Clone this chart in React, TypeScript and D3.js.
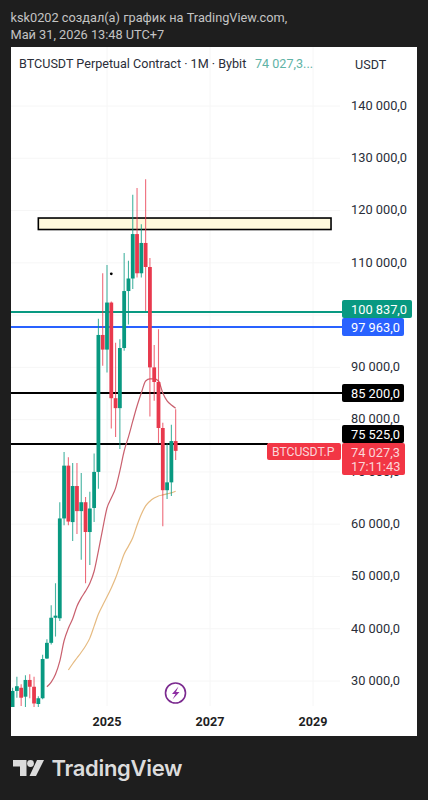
import React from "react";
import * as d3 from "d3";

const FONT = "Roboto, sans-serif";
const firstMonth = -22; // months relative to Jan 2025 (Mar 2023)
const opens = [24800,28100,28700,27000,30200,28900,25600,26700,34300,37300,42100,42000,61100,71200,60400,67300,62500,64200,58500,63100,70000,96200,93400,102400,84100,82200,93700,104600,107000,115500,108000,113800,109200,90000,87200,78400,66500,68000,75900];
const highs = [28700,30800,29400,31100,31300,30800,27100,35000,38000,44500,48700,64200,73800,72800,71700,71700,69800,65200,66200,73500,99300,108000,109600,102600,94700,95400,111900,110400,123000,124300,117400,126000,110900,94300,97300,79400,75500,79000,82000];
const lows = [24800,26800,25200,24800,26700,24800,24800,26500,34200,37000,38500,41500,59800,59800,56800,58100,53200,48700,52200,60400,66800,90300,89000,78300,76700,74400,93200,98200,105000,107200,107200,100800,80600,83600,75500,59600,64800,65400,72300];
const closes = [28100,29000,26800,30200,28900,25700,26700,34200,37300,42100,42500,61100,71200,60500,67300,62500,64200,58500,63000,70000,96200,93400,102400,84100,82200,93700,104600,107000,115500,108000,113800,109200,90000,87200,78400,66500,68000,75900,74027];
const fastStart = -14;
const fastMA = [28900,29800,31300,33800,37700,40100,41900,44300,45900,47200,48700,51000,54900,59100,63100,65000,66900,70200,74000,76700,79700,82600,85100,87400,87800,87800,87400,85100,83600,82800,82200];
const slowStart = -9;
const slowMA = [32100,33300,34400,35500,36700,38200,40500,42800,44500,46100,47800,49700,52000,54300,55800,57400,59800,61900,63500,64400,65000,65400,65600,65800,66000,66300];
const priceTicks = [140000,130000,120000,110000,90000,80000,70000,60000,50000,40000,30000];
const gridTicks = [140000,130000,120000,110000,100000,90000,80000,70000,60000,50000,40000,30000];
const yearTicks = [{ month: 0, label: "2025" }, { month: 24, label: "2027" }, { month: 48, label: "2029" }];
const zone = { top: 118570, bottom: 116370, startMonth: -16, endMonth: 52.2 };
const markerDot = { month: 1, price: 107900 };
const levels = [
  { price: 100837, color: "#089981", text: "100 837,0", tagW: 70, tagShift: -3 },
  { price: 97963, color: "#2962ff", text: "97 963,0", tagW: 62, tagShift: 0 },
  { price: 85200, color: "#000000", text: "85 200,0", tagW: 62, tagShift: 0 },
  { price: 75525, color: "#000000", text: "75 525,0", tagW: 62, tagShift: 0 },
];
const lastPriceText = "74 027,3";
const countdownText = "17:11:43";

const fmt = (v: number) => d3.format(",.1f")(v).replace(/,/g, " ").replace(".", ",");

export default function App() {
  const x = d3.scaleLinear().domain([0, 48]).range([107, 313]);
  const y = d3.scaleLinear().domain([30000, 140000]).range([681, 106]);
  const candles = closes.map((c, i) => ({ m: firstMonth + i, o: opens[i], h: highs[i], l: lows[i], c }));
  const lineGen = d3.line<{ m: number; v: number }>().x((d) => x(d.m)).y((d) => y(d.v)).curve(d3.curveMonotoneX);
  const fast = fastMA.map((v, i) => ({ m: fastStart + i, v }));
  const slow = slowMA.map((v, i) => ({ m: slowStart + i, v }));
  const UP = "#089981";
  const DOWN = "#e8394d";
  const lvlY = (p: number) => Math.round(y(p)) + 1;
  return (
    <svg width={428} height={800} style={{ position: "absolute", left: 0, top: 0 }} fontFamily={FONT}>
      <defs>
        <clipPath id="plot"><rect x={11} y={47} width={330} height={660} /></clipPath>
      </defs>
      <rect width={428} height={800} fill="#1e1e1e" />
      <text x={10.5} y={21.5} fontSize={12.75} fill="#c4c4c4">ksk0202 создал(а) график на TradingView.com,</text>
      <text x={10.5} y={39} fontSize={12.75} fill="#c4c4c4">Май 31, 2026 13:48 UTC+7</text>
      <rect x={11} y={47} width={406} height={689} fill="#ffffff" />

      {gridTicks.map((t) => <line key={t} x1={11} x2={340} y1={y(t)} y2={y(t)} stroke="#f6f6f6" />)}
      {yearTicks.map((t) => <line key={t.label} x1={x(t.month)} x2={x(t.month)} y1={47} y2={706} stroke="#f6f6f6" />)}

      <text x={19} y={67.5} fontSize={12.6} fill="#2a2e39">BTCUSDT Perpetual Contract · 1M · Bybit</text>
      <text x={255} y={67.5} fontSize={12.6} fill="#5fb3a6">74 027,3...</text>
      <text x={355} y={68.5} fontSize={12.6} fill="#2a2e39">USDT</text>

      {priceTicks.map((t) => (
        <text key={t} x={351} y={y(t) - 0.8} dy="0.36em" fontSize={12.8} fill="#2a2e39">{fmt(t)}</text>
      ))}

      {levels.map((l, i) => (
        <line key={l.price} x1={11} x2={i === 3 ? 268 : 342} y1={lvlY(l.price)} y2={lvlY(l.price)} stroke={l.color} strokeWidth={2} />
      ))}
      <rect x={x(zone.startMonth)} y={y(zone.top)} width={x(zone.endMonth) - x(zone.startMonth)} height={y(zone.bottom) - y(zone.top)} fill="#fff9dc" stroke="#000" strokeWidth={1.6} />

      <g clipPath="url(#plot)">
        <path d={lineGen(fast) ?? ""} fill="none" stroke="#c9606e" strokeWidth={1.2} />
        <path d={lineGen(slow) ?? ""} fill="none" stroke="#e6bb82" strokeWidth={1.2} />
        {candles.map((d) => {
          const col = d.c >= d.o ? UP : DOWN;
          const top = y(Math.max(d.o, d.c));
          const h = Math.max(1, Math.abs(y(d.o) - y(d.c)));
          return (
            <g key={d.m}>
              <line x1={x(d.m)} x2={x(d.m)} y1={y(d.h)} y2={y(d.l)} stroke={col} strokeOpacity={0.75} strokeWidth={1.1} />
              <rect x={x(d.m) - 1.9} width={3.8} y={top} height={h} fill={col} />
            </g>
          );
        })}
        <circle cx={x(markerDot.month)} cy={y(markerDot.price)} r={1.4} fill="#000" />
      </g>

      {levels.slice(0, 3).map((l) => (
        <g key={l.price}>
          <rect x={342} y={lvlY(l.price) - 9 + l.tagShift} width={l.tagW} height={18} rx={2} fill={l.color} />
          <text x={351} y={lvlY(l.price) + l.tagShift} dy="0.36em" fontSize={12.8} fill="#fff">{l.text}</text>
        </g>
      ))}
      <rect x={342} y={lvlY(levels[3].price) - 19} width={62} height={18} rx={2} fill="#000" />
      <text x={351} y={lvlY(levels[3].price) - 10} dy="0.36em" fontSize={12.8} fill="#fff">{levels[3].text}</text>
      <rect x={342} y={lvlY(levels[3].price) - 1} width={63} height={32} rx={2} fill="#f23645" />
      <text x={351} y={lvlY(levels[3].price) + 8} dy="0.36em" fontSize={12.8} fill="#fbd5d9">{lastPriceText}</text>
      <text x={351} y={lvlY(levels[3].price) + 22} dy="0.36em" fontSize={12.8} fill="#fbd5d9">{countdownText}</text>
      <rect x={267} y={lvlY(levels[3].price) - 1} width={74} height={17} rx={2} fill="#f23645" />
      <text x={272} y={lvlY(levels[3].price) + 7.5} dy="0.36em" fontSize={12.2} fill="#fbd5d9">BTCUSDT.P</text>

      <circle cx={175.5} cy={693} r={10} fill="#fff" stroke="#7b2a8f" strokeWidth={1.6} />
      <path d="M178.5 686.5 L172 694 L175.5 694 L172.5 699.5 L179.5 692 L176 692 Z" fill="#8e2fa3" />

      {yearTicks.map((t) => (
        <text key={t.label} x={x(t.month)} y={726} textAnchor="middle" fontSize={12.6} fontWeight={700} fill="#1f1f1f">{t.label}</text>
      ))}

      <g fill="#dcdcdc">
        <path d="M13 760 H26.5 V776 H20 V766.5 H13 Z" />
        <circle cx={30.5} cy={763.5} r={3.4} />
        <path d="M37 760 H44 L36 776 H29.5 Z" />
        <text x={51.5} y={775.5} fontSize={22} fontWeight={600} fontFamily="Inter, sans-serif" letterSpacing={-0.3}>TradingView</text>
      </g>
    </svg>
  );
}
